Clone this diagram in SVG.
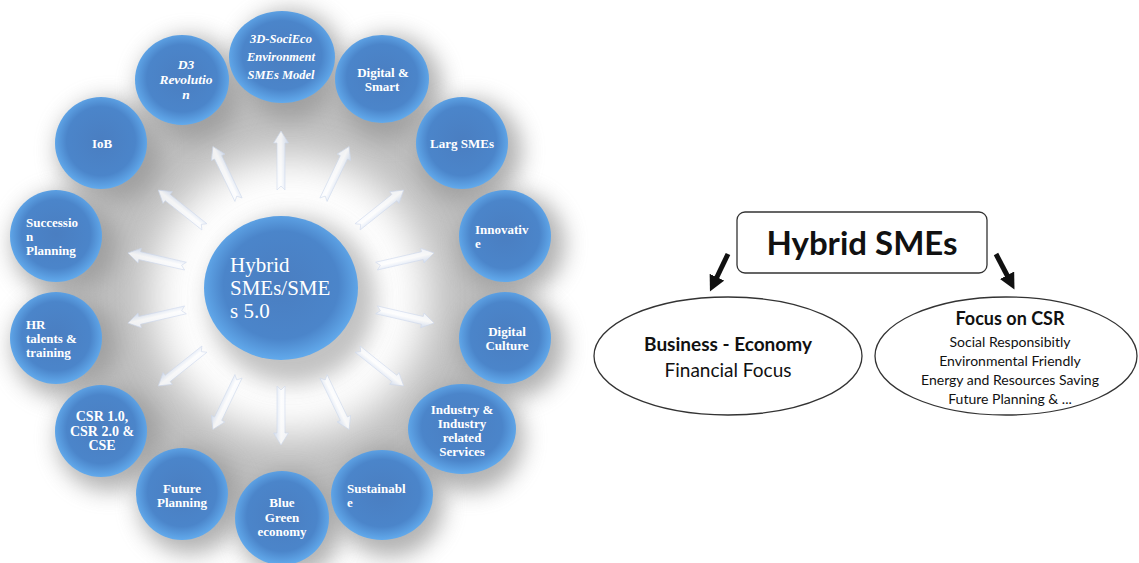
<svg xmlns="http://www.w3.org/2000/svg" xmlns:xlink="http://www.w3.org/1999/xlink" width="1139" height="563" viewBox="0 0 1139 563">
  <defs>
    <radialGradient id="ball" cx="50%" cy="48%" r="52%">
      <stop offset="0" stop-color="#4a7ec1"/>
      <stop offset="0.72" stop-color="#4b85ca"/>
      <stop offset="1" stop-color="#62aaec"/>
    </radialGradient>
    <linearGradient id="ray" x1="0" y1="0" x2="1" y2="0">
      <stop offset="0" stop-color="#f4f8ff"/>
      <stop offset="0.5" stop-color="#ffffff"/>
      <stop offset="1" stop-color="#cfdcf2"/>
    </linearGradient>
    <filter id="soft" x="-50%" y="-50%" width="200%" height="200%">
      <feGaussianBlur stdDeviation="11"/>
    </filter>
    <filter id="haze" x="-30%" y="-30%" width="160%" height="160%">
      <feGaussianBlur stdDeviation="20"/>
    </filter>
    <!-- one outward ray, pointing up from the hub -->
    <path id="rayShape" d="M-4,-98 L-4,-145 L-7.5,-145 L0,-157 L7.5,-145 L4,-145 L4,-98 L0,-102 Z"/>
    <marker id="blackHead" markerUnits="userSpaceOnUse" markerWidth="18" markerHeight="18" refX="2" refY="8" orient="auto">
      <path d="M0,0 L16,8 L0,16 Z" fill="#111"/>
    </marker>
    <style>
      .ballTxt { font-family: "Liberation Serif", "DejaVu Serif", serif; font-weight: bold; font-size: 13px; fill: #ffffff; }
      .it { font-style: italic; font-size: 12.5px; }
      .mid { text-anchor: middle; }
      .hubTxt { font-family: "Liberation Serif", "DejaVu Serif", serif; font-size: 21px; fill: #ffffff; }
      .ray { fill: url(#ray); stroke: #cdd8ec; stroke-width: 0.7; opacity: 0.8; }
      .shadow { fill: #8a8a8a; opacity: 0.65; filter: url(#soft); }
      .box { fill: #ffffff; stroke: #333; stroke-width: 1.3; }
      .cal { font-family: Lato, "Liberation Sans", sans-serif; fill: #111; text-anchor: middle; }
      .b { font-weight: bold; }
    </style>
  </defs>

  <rect width="1139" height="563" fill="#ffffff"/>

  <!-- soft grey haze under the ring of circles -->
  <g id="haze">
    <circle cx="290" cy="296" r="180" fill="none" stroke="#a9a9a9" stroke-width="80" opacity="0.75" filter="url(#haze)"/>
    <circle cx="292" cy="300" r="84" fill="#9a9a9a" opacity="0.6" filter="url(#soft)"/>
    <circle cx="290" cy="64" r="54" class="shadow"/>
    <circle cx="190" cy="88" r="52" class="shadow"/>
    <circle cx="390" cy="87" r="52" class="shadow"/>
    <circle cx="109" cy="151" r="52" class="shadow"/>
    <circle cx="470" cy="151" r="52" class="shadow"/>
    <circle cx="64" cy="244" r="52" class="shadow"/>
    <circle cx="513" cy="244" r="52" class="shadow"/>
    <circle cx="64" cy="346" r="52" class="shadow"/>
    <circle cx="513" cy="346" r="52" class="shadow"/>
    <circle cx="109" cy="439" r="52" class="shadow"/>
    <circle cx="470" cy="438" r="54" class="shadow"/>
    <circle cx="190" cy="502" r="52" class="shadow"/>
    <circle cx="390" cy="503" r="54" class="shadow"/>
    <circle cx="290" cy="526" r="52" class="shadow"/>
  </g>

  <!-- rays from the hub toward each outer circle, and the chart arrows -->
  <g id="connectors">
    <use xlink:href="#rayShape" class="ray" transform="translate(281,288) rotate(0)"/>
    <use xlink:href="#rayShape" class="ray" transform="translate(281,288) rotate(25.7)"/>
    <use xlink:href="#rayShape" class="ray" transform="translate(281,288) rotate(51.4)"/>
    <use xlink:href="#rayShape" class="ray" transform="translate(281,288) rotate(77.1)"/>
    <use xlink:href="#rayShape" class="ray" transform="translate(281,288) rotate(102.9)"/>
    <use xlink:href="#rayShape" class="ray" transform="translate(281,288) rotate(128.6)"/>
    <use xlink:href="#rayShape" class="ray" transform="translate(281,288) rotate(154.3)"/>
    <use xlink:href="#rayShape" class="ray" transform="translate(281,288) rotate(180)"/>
    <use xlink:href="#rayShape" class="ray" transform="translate(281,288) rotate(205.7)"/>
    <use xlink:href="#rayShape" class="ray" transform="translate(281,288) rotate(231.4)"/>
    <use xlink:href="#rayShape" class="ray" transform="translate(281,288) rotate(257.1)"/>
    <use xlink:href="#rayShape" class="ray" transform="translate(281,288) rotate(282.9)"/>
    <use xlink:href="#rayShape" class="ray" transform="translate(281,288) rotate(308.6)"/>
    <use xlink:href="#rayShape" class="ray" transform="translate(281,288) rotate(334.3)"/>
    <line x1="728" y1="254" x2="716" y2="279" stroke="#111" stroke-width="5" marker-end="url(#blackHead)"/>
    <line x1="996" y1="254" x2="1008" y2="277" stroke="#111" stroke-width="5" marker-end="url(#blackHead)"/>
  </g>

  <g id="hub">
    <ellipse cx="281" cy="288" rx="77" ry="72" fill="url(#ball)"/>
    <text class="hubTxt" x="230" y="272">Hybrid</text>
    <text class="hubTxt" x="230" y="295">SMEs/SME</text>
    <text class="hubTxt" x="230" y="318">s 5.0</text>
  </g>

  <g id="node-3d">
    <ellipse cx="282" cy="57" rx="53" ry="46" fill="url(#ball)"/>
    <text class="ballTxt it mid" x="281" y="43">3D-SociEco</text>
    <text class="ballTxt it mid" x="281" y="61">Environment</text>
    <text class="ballTxt it mid" x="281" y="79">SMEs Model</text>
  </g>
  <g id="node-d3">
    <ellipse cx="182" cy="80" rx="47" ry="45" fill="url(#ball)"/>
    <text class="ballTxt it mid" x="186" y="69" style="font-size:13.5px">D3</text>
    <text class="ballTxt it mid" x="186" y="84" style="font-size:13.5px">Revolutio</text>
    <text class="ballTxt it mid" x="186" y="99" style="font-size:13.5px">n</text>
  </g>
  <g id="node-digital-smart">
    <ellipse cx="382" cy="79" rx="47" ry="44" fill="url(#ball)"/>
    <text class="ballTxt mid" x="383" y="77">Digital  &amp;</text>
    <text class="ballTxt mid" x="382" y="91">Smart</text>
  </g>
  <g id="node-iob">
    <circle cx="101" cy="143" r="46" fill="url(#ball)"/>
    <text class="ballTxt mid" x="102" y="148">IoB</text>
  </g>
  <g id="node-larg">
    <circle cx="462" cy="143" r="46" fill="url(#ball)"/>
    <text class="ballTxt mid" x="462" y="148">Larg SMEs</text>
  </g>
  <g id="node-succession">
    <circle cx="56" cy="236" r="46" fill="url(#ball)"/>
    <text class="ballTxt" x="26" y="227">Successio</text>
    <text class="ballTxt" x="26" y="241">n</text>
    <text class="ballTxt" x="26" y="255">Planning</text>
  </g>
  <g id="node-innovative">
    <circle cx="505" cy="236" r="46" fill="url(#ball)"/>
    <text class="ballTxt" x="475" y="234">Innovativ</text>
    <text class="ballTxt" x="475" y="248">e</text>
  </g>
  <g id="node-hr">
    <circle cx="56" cy="338" r="46" fill="url(#ball)"/>
    <text class="ballTxt" x="26" y="329">HR</text>
    <text class="ballTxt" x="26" y="343">talents &amp;</text>
    <text class="ballTxt" x="26" y="357">training</text>
  </g>
  <g id="node-digital-culture">
    <circle cx="505" cy="338" r="46" fill="url(#ball)"/>
    <text class="ballTxt mid" x="507" y="336">Digital</text>
    <text class="ballTxt mid" x="507" y="350">Culture</text>
  </g>
  <g id="node-csr">
    <circle cx="101" cy="431" r="46" fill="url(#ball)"/>
    <text class="ballTxt mid" x="102" y="421" style="font-size:14px">CSR 1.0,</text>
    <text class="ballTxt mid" x="102" y="436" style="font-size:14px">CSR 2.0 &amp;</text>
    <text class="ballTxt mid" x="102" y="450" style="font-size:14px">CSE</text>
  </g>
  <g id="node-industry">
    <ellipse cx="462" cy="429" rx="54" ry="45" fill="url(#ball)"/>
    <text class="ballTxt mid" x="462" y="414">Industry &amp;</text>
    <text class="ballTxt mid" x="462" y="428">Industry</text>
    <text class="ballTxt mid" x="462" y="442">related</text>
    <text class="ballTxt mid" x="462" y="456">Services</text>
  </g>
  <g id="node-future">
    <circle cx="182" cy="494" r="46" fill="url(#ball)"/>
    <text class="ballTxt mid" x="182" y="493">Future</text>
    <text class="ballTxt mid" x="182" y="507">Planning</text>
  </g>
  <g id="node-sustainable">
    <ellipse cx="382" cy="495" rx="51" ry="45" fill="url(#ball)"/>
    <text class="ballTxt" x="347" y="493">Sustainabl</text>
    <text class="ballTxt" x="347" y="507">e</text>
  </g>
  <g id="node-blue-green">
    <circle cx="282" cy="518" r="47" fill="url(#ball)"/>
    <text class="ballTxt mid" x="282" y="507">Blue</text>
    <text class="ballTxt mid" x="282" y="522">Green</text>
    <text class="ballTxt mid" x="282" y="536">economy</text>
  </g>

  <!-- right-hand chart -->
  <g id="node-hybrid-smes">
    <rect class="box" x="737" y="212" width="250" height="61" rx="8"/>
    <text class="cal b" x="862" y="255" style="font-size:33px">Hybrid SMEs</text>
  </g>
  <g id="node-business">
    <ellipse class="box" cx="728" cy="356" rx="134" ry="59"/>
    <text class="cal b" x="728" y="351" style="font-size:19px">Business - Economy</text>
    <text class="cal" x="728" y="377" style="font-size:19px">Financial Focus</text>
  </g>
  <g id="node-csr-focus">
    <ellipse class="box" cx="1006" cy="356" rx="131" ry="59"/>
    <text class="cal b" x="1010" y="325" style="font-size:18px">Focus on CSR</text>
    <text class="cal" x="1010" y="347" style="font-size:14px">Social Responsibitly</text>
    <text class="cal" x="1010" y="366" style="font-size:14px">Environmental Friendly</text>
    <text class="cal" x="1010" y="385" style="font-size:14px">Energy and Resources Saving</text>
    <text class="cal" x="1010" y="404" style="font-size:14px">Future Planning &amp; ...</text>
  </g>
</svg>
